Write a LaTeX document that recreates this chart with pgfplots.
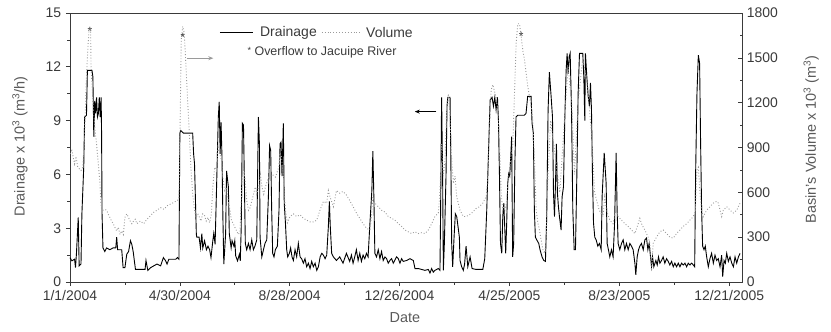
\documentclass[border=0pt]{standalone}
\usepackage{fontspec}
\setmainfont{Liberation Sans}
\usepackage{pgfplots}
\pgfplotsset{compat=1.18}
\usepackage{pgfplotstable}
\usetikzlibrary{arrows.meta}

% Drainage x 10^3 (m^3/h), day 0 = 1/1/2004
\pgfplotstableread{
day v
0 1.36
2 1.18
5 1.27
6 0.8
7 1.55
9 3.6
10 0.9
12 1.0
13 3.8
15 6.4
16 9.2
18 9.3
19 11.8
24 11.8
25 11.45
26 8.1
27 10.1
28 9.4
29 10.3
30 9.2
31 9.4
32 10.3
33 9.2
34 10.3
34.5 8.3
35 3.8
36 1.9
38 1.7
40 1.9
43.5 1.8
47 1.9
50 1.9
51 2.5
52 1.8
56.5 1.8
58 0.8
60 0.8
62 1.55
64 1.7
66 2.3
67.5 2.1
69 1.7
71.5 0.7
77 0.7
82 0.7
83 1.2
85 0.65
88 0.8
91.5 0.9
95 1.0
99 0.9
102 1.36
104.5 1.18
106 1.0
108 1.27
112 1.27
115.5 1.27
117.4 1.36
119 1.27
120 8.3
121 8.45
124 8.3
134 8.3
135 7.15
136 6.6
138 2.65
138.5 2.5
141 2.5
142.5 1.9
144 2.7
145 1.9
147 2.3
149 1.8
150.7 2.0
152.5 1.8
154 1.36
156 2.3
157 2.7
158.5 2.1
160 5.1
162 9.2
163 10.05
164 7.15
165 8.9
166 7.0
167 3.6
168 1.0
170 2.7
171 6.2
173 5.3
174 2.7
176 1.9
177 2.3
179 2.0
180 2.3
181 1.45
183 1.18
185 1.55
186 1.18
187 3.0
188.3 8.85
189.5 8.75
190.5 5.5
191.5 2.15
193 1.8
194.9 2.15
196.7 1.8
198.5 2.35
200.3 1.8
202 2.0
204 2.35
204.7 5.1
205.8 9.2
206.9 7.7
207.6 2.5
209.5 1.4
211.3 1.8
213 2.15
214.9 2.35
216.7 4.75
218 7.6
219.2 7.35
220.3 4.0
221.4 1.6
222.8 1.4
224.3 1.8
226.5 2.0
228.3 4.0
229.4 7.7
230.5 7.8
231.6 5.9
233 8.85
234 4.4
235.3 3.3
236.7 1.8
237.8 1.4
239.6 1.6
241 1.9
242.5 1.4
244 1.2
245.8 1.8
247.6 1.4
249.4 2.15
251.3 1.4
253 1.3
254.9 1.05
256.7 1.3
258.5 0.85
260.4 1.05
262.2 0.75
264 1.15
265.8 0.85
267.7 1.05
269.5 0.65
271.3 0.85
273.2 1.4
275 1.6
276.8 1.5
278.6 1.3
280.4 1.5
282.2 3.1
283.3 4.5
284.3 3.1
285.8 1.6
287.7 1.4
291 1.2
294.6 1.4
298.2 1.05
301.9 1.6
305.5 1.15
307.4 1.5
309.2 1.05
311 1.4
312.8 1.8
314.7 1.2
316.5 1.6
318.3 1.15
320.1 1.5
322 1.3
323.8 1.6
325.6 1.4
327.4 3.1
329.7 5.1
330.8 7.3
331.9 4.75
333 1.6
334.8 1.4
336.7 1.8
338.5 1.3
340.3 1.7
342.1 1.2
344 1.4
345.8 1.3
347.6 1.05
349.4 1.2
351.3 1.3
353.1 1.05
356.7 1.4
358.6 1.3
360.4 1.05
362.2 1.3
364 1.15
367.7 1.2
371.3 1.3
375 1.2
376.8 0.75
380.4 0.75
384.1 0.7
387.7 0.65
391.4 0.7
393.2 0.5
395 0.75
396.8 0.55
398.6 0.65
402.3 0.75
404.1 0.65
404.8 4.0
405.9 10.3
407 5.9
407.8 0.65
408.9 2.15
410.7 5.9
411.8 9.8
412.6 10.3
415.1 10.3
415.8 7.7
416.9 2.15
418 0.85
419.5 2.5
420.9 3.8
422.4 3.65
423.8 3.1
425.3 2.5
426 1.2
427.8 0.85
429.6 0.65
431 1.0
432.6 2.0
434.5 0.85
437 1.4
439.2 0.75
443.6 0.7
450.9 0.7
453 1.3
455.2 4.0
457.4 7.7
458.9 10.15
461 10.3
462.5 9.8
464 10.3
465.4 9.6
466.9 10.3
468 9.0
469.1 5.9
470.2 2.15
471.6 1.6
472.7 3.65
473.8 4.4
474.8 3.1
475.9 1.6
477 3.3
478.1 5.5
479.2 6.05
480.3 5.9
481.4 7.0
482.4 8.1
483.5 1.4
484.6 2.15
486 6.8
487.2 9.2
489 9.3
496.3 9.3
498.1 9.4
499.9 10.35
503.6 10.35
504.7 8.85
506.1 8.3
507.2 4.0
508.3 2.5
509.8 2.35
512 2.15
513.4 1.8
515.6 1.4
517.5 1.2
519.3 1.15
520.7 3.65
522.2 9.6
523.6 11.7
525.5 10.35
527 9.2
528.1 4.95
529.2 3.65
530.3 5.5
531.3 7.7
532.4 4.95
533.5 4.2
534.6 3.65
536.4 2.9
537.5 4.75
539 5.3
540.4 9.0
541.9 11.8
543 12.75
544.1 11.6
545.2 12.55
546.3 12.75
547.8 9.6
549.2 4.0
550.7 1.8
552.1 1.8
553.6 5.9
555 10.5
556.5 12.75
560.1 12.75
561.2 11.45
562.3 9.0
563 12.75
564.5 11.45
566 10.35
567.4 9.8
568.5 11.1
569.6 9.6
570.7 5.9
571.8 3.3
573.2 2.5
574.7 2.35
576.5 2.0
578.3 2.15
580.2 1.8
581.2 4.75
583.5 7.2
585.6 5.5
586.7 2.15
588.1 1.8
589.6 1.4
591.4 1.8
593.2 1.4
594.7 3.1
595.8 5.5
596.5 7.2
597.6 4.0
598.7 2.15
600.5 1.8
602.4 2.15
604.2 2.35
606 1.8
607.8 2.15
609.7 1.8
611.5 2.15
613.3 2.0
615.1 1.8
617 1.05
618 0.4
619.5 1.4
621 1.8
622.4 2.0
624.2 2.15
626.1 1.8
627.9 2.35
629.7 2.45
631.2 1.8
632.6 2.15
634.1 1.4
635.2 0.85
636.3 1.4
637.7 0.85
639.9 1.2
641.4 0.95
642.8 1.4
644.3 1.05
646.1 1.2
647.9 1.4
649.7 1.05
651.6 1.3
653.4 1.15
655.2 0.95
657.1 1.15
658.9 0.85
660.7 1.05
662.5 0.85
664.4 1.05
666.2 0.85
668 1.05
669.8 0.95
671.7 1.05
673.5 0.85
675.3 1.05
677.1 0.95
679 1.05
680.8 0.95
682.3 0.85
683.3 5.9
684.8 10.5
686.3 12.65
687.7 12.2
688.8 7.7
689.9 4.0
691 2.0
692.5 1.8
693.9 2.0
695.4 1.4
697.2 0.85
699 1.3
700.8 1.6
702.7 1.05
704.5 1.5
706.3 1.2
708.1 1.3
710 0.85
711.8 1.5
712.9 0.3
714.4 1.2
715.8 1.05
717.3 1.6
719.1 1.15
720.9 1.4
722.8 1.05
724.6 0.85
726.4 1.4
728.2 1.05
730.1 1.4
731.9 1.6
}\drainage

% Basin's volume x 10^3 (m^3)
\pgfplotstableread{
day V
0 858
2 880
5 790
6.6 840
8.5 768
12 746
14 768
16 996
17.7 1332
19.6 1572
21 1700
22.5 1690
23 1440
25 1212
27 1038
29 924
30.6 816
32.5 678
34 498
36 480
38 486
40 480
41.7 456
43.6 432
45.4 408
47.3 390
49 366
51 342
52.8 366
54.6 318
56.5 342
58.3 318
60 432
62 456
63.9 432
65.7 408
67.6 390
69.4 408
71.3 420
73 390
76.8 408
80.5 390
84 420
88 444
91.6 468
95 480
99 498
102.7 486
106 510
110 522
113.7 534
117.4 546
119 564
120.4 1104
121.5 1620
123 1710
124.8 1668
126.7 1440
128.5 1212
130 1038
132 768
134 588
136 480
137.7 432
139.6 456
141.4 432
143 408
145 456
147 444
148.8 408
150.7 432
152.5 396
154.4 456
156 636
158 768
160 744
161.7 900
163.6 858
165.4 816
167.3 678
169 612
171 636
172.8 546
174.7 480
176.5 408
178.4 390
180 366
182 342
184 318
185.7 342
187.6 636
189.4 768
191.3 678
193 546
195 480
196.8 498
198.7 546
200.5 588
202.4 636
204 588
206 636
208 720
209.7 636
211.6 588
213.4 636
217 702
220.8 720
224.5 702
228 768
229.4 864
231 840
233 708
235.3 480
237.4 396
240.3 438
244 456
247.6 438
251.3 450
254.9 426
258.5 414
262.2 402
265.8 402
269.5 414
273 480
276.8 540
280.4 528
282.2 612
284 570
287.7 504
291 612
294.6 594
298.2 606
301.9 582
305.5 546
309.2 504
312.8 462
316.5 426
320.1 390
323.8 360
327.4 348
329.3 438
330.8 570
333 528
336.7 504
340.3 480
344 468
347.6 438
351.3 426
354.9 414
358.6 390
362.2 372
365.8 348
369.5 336
373.1 324
376.8 336
380.4 324
384 330
387.7 324
391.4 348
395 390
398.6 438
402.3 462
404 594
405.9 924
407.8 708
409.6 816
411.4 1152
413.3 1260
415.1 1104
416.9 816
418.8 660
420.6 708
422.4 570
426 480
429.6 438
432.6 438
436.3 450
440 468
443.6 492
447.3 504
450.9 528
454.6 570
456.4 708
458.2 1038
460 1284
461.8 1320
465.4 1236
467.3 1152
469.1 924
471 594
472.7 480
474.5 528
476.4 480
478.2 660
480 750
481.8 840
483.7 924
485.5 1260
487.3 1596
489.1 1728
491 1728
492.8 1644
494.6 1548
496.4 1488
498.3 1392
500 1308
502 1236
503.7 1176
505.5 1080
507.3 816
509.2 480
511 396
512.8 348
514.6 282
516.5 216
518.3 192
520 258
522 708
525 1080
530 840
535 600
540 1080
544 1440
548 1200
551 720
555 1200
560 1500
565 1320
570 960
573 600
578 480
582.3 438
584 570
586 480
589.6 414
593.2 390
596.2 480
598.7 438
602.4 414
606 390
609.7 372
613.3 348
617 324
620.6 390
622.4 426
624.2 390
627.9 348
631.5 300
633.3 258
635.2 78
637 258
640.6 300
644.3 336
647.9 348
651.6 324
655.2 300
658.9 294
662.5 324
666.2 348
669.8 372
673.5 390
677.1 414
680.8 438
683 480
684.8 750
686.3 768
688.1 594
689.9 480
691.7 438
695.4 480
699 504
702.7 528
706.3 540
708.1 528
710 480
711.8 438
713.6 480
717.3 504
721 480
724.6 462
728.2 480
731.9 528
}\volume

\definecolor{axisgray}{HTML}{3A3A3A}
\definecolor{labelgray}{HTML}{5A5A5A}
\definecolor{volgray}{HTML}{9A9A9A}

\pgfplotsset{
  common/.style={
    at={(0bp,0bp)}, anchor=south west,
    scale only axis, width=672bp, height=269bp,
    xmin=0, xmax=734,
    axis line style={axisgray, line width=0.8bp},
    tick style={axisgray, line width=0.6bp},
    major tick length=4bp, minor tick length=2.5bp,
    ticklabel style={font=\fontsize{14}{16}\selectfont, text=axisgray},
    label style={font=\fontsize{14.5}{17}\selectfont, text=labelgray},
    /pgf/number format/assume math mode=true,
    /pgf/number format/1000 sep={},
  }
}

\begin{document}
\fontsize{14}{16}\selectfont
\begin{tikzpicture}
\path[use as bounding box] (-70bp,-50bp) rectangle (761bp,282bp);
\begin{axis}[
  common,
  ymin=0, ymax=15,
  xtick={0,120,240,360,480,600,720},
  xticklabels={1/1/2004,4/30/2004,8/28/2004,12/26/2004,4/25/2005,8/23/2005,12/21/2005},
  minor x tick num=1,
  ytick={0,3,6,9,12,15},
  minor y tick num=1,
  tick align=outside,
  xtick pos=lower, ytick pos=left,
  xlabel={Date},
  ylabel={Drainage x 10\textsuperscript{3} (m\textsuperscript{3}/h)},
  xlabel style={at={(axis description cs:0.4985,-0.134)}, anchor=center},
  ylabel style={at={(axis description cs:-0.0744,0.504)}, anchor=center},
  clip=false,
]
\addplot[black, line width=0.9bp] table[x=day, y=v] {\drainage};
% annotations
\node[font=\fontsize{12}{12}\selectfont, black!85] at (axis cs:21.9,13.95) {*};
\node[font=\fontsize{12}{12}\selectfont, black!85] at (axis cs:123.5,13.65) {*};
\node[font=\fontsize{12}{12}\selectfont, black!85] at (axis cs:492.7,13.7) {*};
\draw[volgray, line width=1bp, -{Stealth[length=5bp,width=4bp]}] (axis cs:127.5,12.48) -- (axis cs:156.5,12.48);
\draw[black, line width=1.1bp, -{Stealth[length=5bp,width=4bp]}] (axis cs:400.2,9.5) -- (axis cs:376.6,9.5);
% legend
\draw[black, line width=0.9bp] (axis description cs:0.2232,0.9268) -- (axis description cs:0.2728,0.9268);
\node[anchor=west, inner sep=0pt, text=axisgray, font=\fontsize{14}{16}\selectfont] at (axis description cs:0.2827,0.9268) {Drainage};
\draw[volgray, dotted, line width=0.9bp] (axis description cs:0.3746,0.9268) -- (axis description cs:0.4315,0.9268);
\node[anchor=west, inner sep=0pt, text=axisgray, font=\fontsize{14}{16}\selectfont] at (axis description cs:0.4405,0.9268) {Volume};
\node[anchor=west, inner sep=0pt, text=axisgray, font=\fontsize{12.5}{15}\selectfont] at (axis description cs:0.264,0.855) {\raisebox{1.5bp}{\fontsize{9}{9}\selectfont *} Overflow to Jacuipe River};
\end{axis}
\begin{axis}[
  common,
  ymin=0, ymax=1800,
  axis x line=none,
  axis y line*=right,
  ytick={0,300,600,900,1200,1500,1800},
  minor y tick num=1,
  ytick align=inside,
  ylabel={Basin's Volume x 10\textsuperscript{3} (m\textsuperscript{3})},
  ylabel style={at={(axis description cs:1.103,0.53)}, anchor=center},
]
\addplot[volgray, dotted, line width=0.9bp] table[x=day, y=V] {\volume};
\end{axis}
\end{tikzpicture}
\end{document}
